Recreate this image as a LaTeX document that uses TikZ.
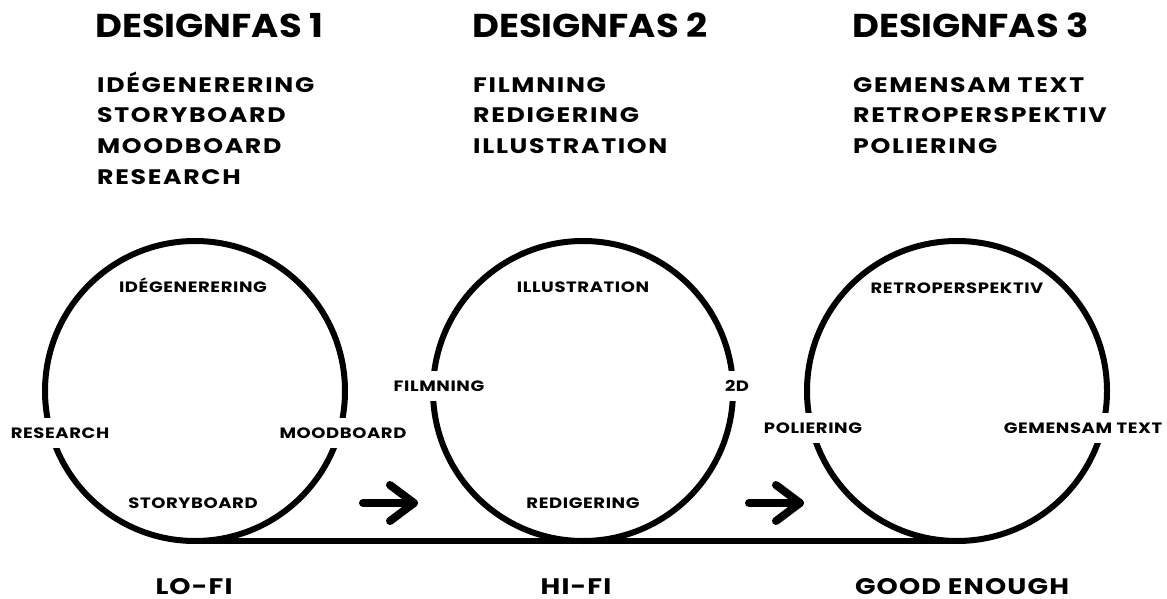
\documentclass[tikz,border=0pt]{standalone}
\usepackage{fontspec}
\setmainfont{Poppins}
\newfontfamily\gfont{Poppins}[FakeStretch=1.2]
\newfontfamily\hfont{Poppins}[FakeStretch=1.12]
\begin{document}
\begin{tikzpicture}[x=1pt,y=-1pt,
  lbl/.style 2 args={font=\gfont\bfseries\fontsize{#1pt}{#1pt}\selectfont\addfontfeature{LetterSpace=#2}, inner sep=0pt, text height=0.7*#1pt, text depth=0pt},
  head/.style={font=\hfont\bfseries\fontsize{33pt}{33pt}\selectfont, inner sep=0pt, text height=23pt, text depth=0pt, anchor=west},
  item/.style={lbl={21}{8}, anchor=west},
  clab/.style={lbl={15}{4}},
  gap/.style={lbl={15}{4}, fill=white, inner xsep=2pt, inner ysep=10pt},
  bot/.style={lbl={22.5}{5}},
  ring/.style={circle, draw, line width=6pt, minimum size=300pt, inner sep=0pt, outer sep=0pt},
  arr/.style={line width=8pt, line cap=round, line join=round}
]
\useasboundingbox (0,0) rectangle (1167,599);
% headings
\node[head] (h1) at (95,26) {DESIGNFAS 1};
\node[head] (h2) at (472,26) {DESIGNFAS 2};
\node[head] (h3) at (852,26) {DESIGNFAS 3};
% lists
\node[item] (l11) at (97,85) {IDÉGENERERING};
\node[item] (l12) at (97,115) {STORYBOARD};
\node[item] (l13) at (97,146) {MOODBOARD};
\node[item] (l14) at (97,177) {RESEARCH};
\node[item] (l21) at (473,85) {FILMNING};
\node[item] (l22) at (473,115) {REDIGERING};
\node[item] (l23) at (473,146) {ILLUSTRATION};
\node[item] (l31) at (853,85) {GEMENSAM TEXT};
\node[item] (l32) at (853,115) {RETROPERSPEKTIV};
\node[item] (l33) at (853,146) {POLIERING};
% baseline and circles
\node[ring] (c1) at (195,391) {};
\node[ring] (c2) at (583,391) {};
\node[ring] (c3) at (957,391) {};
\draw[line width=6pt] (c1.south) -- (c3.south);
% circle 1 labels
\node[clab] (a1) at (193,287) {IDÉGENERERING};
\node[gap] (a2) at (60,433) {RESEARCH};
\node[gap] (a3) at (343,433) {MOODBOARD};
\node[clab] (a4) at (193,503) {STORYBOARD};
% circle 2 labels
\node[clab] (b1) at (583,287) {ILLUSTRATION};
\node[gap] (b2) at (439,386) {FILMNING};
\node[gap] (b3) at (737,386) {2D};
\node[clab] (b4) at (583,503) {REDIGERING};
% circle 3 labels
\node[clab] (d1) at (957,288) {RETROPERSPEKTIV};
\node[gap] (d2) at (813,428) {POLIERING};
\node[gap] (d3) at (1083,428) {GEMENSAM TEXT};
% arrows
\coordinate (p1s) at (363,503); \coordinate (p1e) at (414,503);
\coordinate (p1u) at (390,485); \coordinate (p1d) at (390,521);
\draw[arr] (p1s) -- (p1e); \draw[arr] (p1u) -- (p1e) -- (p1d);
\coordinate (p2s) at (749,503); \coordinate (p2e) at (800,503);
\coordinate (p2u) at (776,485); \coordinate (p2d) at (776,521);
\draw[arr] (p2s) -- (p2e); \draw[arr] (p2u) -- (p2e) -- (p2d);
% bottom labels
\node[bot] (f1) at (194,587) {LO-FI};
\node[bot] (f2) at (576,587) {HI-FI};
\node[bot] (f3) at (962,587) {GOOD ENOUGH};
\end{tikzpicture}
\end{document}
